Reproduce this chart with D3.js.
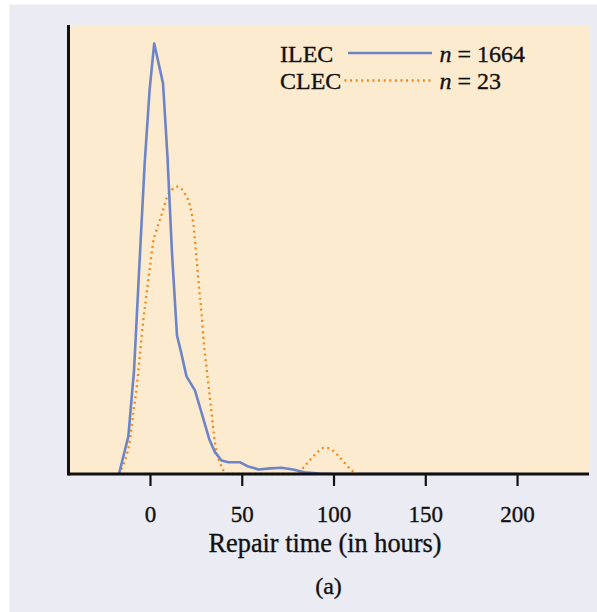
<!DOCTYPE html>
<html>
<head>
<meta charset="utf-8">
<script src="https://cdn.jsdelivr.net/npm/d3@7"></script>
<style>
  html, body { margin: 0; padding: 0; background: #ffffff; }
  svg { display: block; }
</style>
</head>
<body>
<svg id="chart" width="597" height="612"></svg>
<script>
// ---- data ----
const ilecX = [-16.9, -11.8, -8.7, -6.0, -2.9, -0.2, 2.3, 7.1, 9.5, 12.0, 14.7, 16.8, 19.9, 24.5, 28.2, 32.3, 35.4, 39.0, 42.7, 48.9, 53.1, 59.3, 65.5, 71.7, 77.9, 84.2, 92.4, 100.7, 200.2];
const ilecY = [0, 0.0067, 0.0184, 0.0358, 0.0553, 0.0685, 0.0767, 0.0696, 0.0567, 0.0393, 0.0247, 0.0219, 0.0174, 0.0149, 0.0108, 0.0062, 0.0039, 0.0024, 0.0021, 0.0021, 0.0014, 0.0008, 0.0010, 0.0011, 0.0008, 0.0003, 0.0001, 0, 0];

const clecX = [-17.3, -13.6, -10.9, -9.1, -7.2, -5.4, -3.6, -1.8, 0, 1.8, 3.6, 5.4, 7.2, 9.1, 11.8, 14.9, 19.1, 21.8, 23.6, 25.4, 26.8, 28.1, 29.4, 30.9, 32.3, 33.6, 34.8, 36.3, 38.1, 40.3, 42.6, 60, 79.9, 84.0, 88.0, 92.5, 94.9, 98.0, 102.5, 106.5, 110.7, 112];
const clecY = [0, 0.0025, 0.0061, 0.0109, 0.0155, 0.0216, 0.0275, 0.0323, 0.0369, 0.0414, 0.0435, 0.0453, 0.0471, 0.0492, 0.0506, 0.0512, 0.0499, 0.0478, 0.0446, 0.0383, 0.0330, 0.0285, 0.0232, 0.0187, 0.0146, 0.0107, 0.0071, 0.0039, 0.0020, 0.0005, 0, 0, 0, 0.0013, 0.0028, 0.0042, 0.0047, 0.0045, 0.0033, 0.0018, 0.0004, 0];

const tickValues = [0, 50, 100, 150, 200];
const seriesNames = ["ILEC", "CLEC"];
const seriesN = ["1664", "23"];
const xLabel = "Repair time (in hours)";
const caption = "(a)";

// ---- layout ----
const svg = d3.select("#chart");
const W = 597, H = 612;
const plot = { left: 68.5, right: 589, top: 25, bottom: 474 };
const serif = "'Liberation Serif', 'Times New Roman', serif";
const ink = "#111";

svg.append("rect").attr("x", 9.5).attr("y", 4.5).attr("width", W - 9.5).attr("height", H - 4.5).attr("fill", "#ebebf4");
svg.append("rect").attr("x", plot.left).attr("y", plot.top)
  .attr("width", plot.right - plot.left).attr("height", plot.bottom - plot.top).attr("fill", "#fcebcf");

const x = d3.scaleLinear().domain([-44.4, 239.2]).range([plot.left, plot.right]);
const y = d3.scaleLinear().domain([0, 0.08]).range([plot.bottom, plot.top]);

const ilec = ilecX.map((v, i) => [v, ilecY[i]]);
const clec = clecX.map((v, i) => [v, clecY[i]]);

// text helper: slight stroke to mimic the heavier print face
function styleText(sel, size) {
  return sel.attr("font-family", serif).attr("font-size", size).attr("fill", ink)
    .attr("stroke", ink).attr("stroke-width", 0.35);
}

// x axis
const xAxis = d3.axisBottom(x).tickValues(tickValues).tickSize(12).tickFormat(d3.format("d"));
const gx = svg.append("g").attr("transform", `translate(0,${plot.bottom})`).call(xAxis);
gx.select(".domain").remove();
gx.selectAll(".tick line").attr("stroke", ink).attr("stroke-width", 2.2);
styleText(gx.selectAll(".tick text"), 23).attr("dy", "1.45em");

// lines
const lineLinear = d3.line().x(d => x(d[0])).y(d => y(d[1]));
const lineSmooth = d3.line().x(d => x(d[0])).y(d => y(d[1])).curve(d3.curveMonotoneX);

svg.append("path").datum(clec).attr("d", lineSmooth).attr("fill", "none")
  .attr("stroke", "#f0891a").attr("stroke-width", 2.3).attr("stroke-dasharray", "2,3.6");
svg.append("path").datum(ilec).attr("d", lineLinear).attr("fill", "none")
  .attr("stroke", "#6d84c6").attr("stroke-width", 2.6).attr("stroke-linejoin", "round");

// axis lines
svg.append("line").attr("x1", plot.left).attr("x2", plot.right).attr("y1", plot.bottom).attr("y2", plot.bottom)
  .attr("stroke", ink).attr("stroke-width", 3);
svg.append("line").attr("x1", plot.left).attr("x2", plot.left).attr("y1", plot.top).attr("y2", plot.bottom + 1.5)
  .attr("stroke", ink).attr("stroke-width", 3);

// legend
const leg = svg.append("g");
const legRows = [
  { name: seriesNames[0], n: seriesN[0], y: 61.5, x1: 348, color: "#6d84c6", dash: null, w: 2.6 },
  { name: seriesNames[1], n: seriesN[1], y: 89, x1: 344.5, color: "#f0891a", dash: "2,3.6", w: 2.3 }
];
legRows.forEach(r => {
  styleText(leg.append("text").attr("x", 280).attr("y", r.y), 24).text(r.name);
  leg.append("line").attr("x1", r.x1).attr("x2", 432).attr("y1", r.y - 8.5).attr("y2", r.y - 8.5)
    .attr("stroke", r.color).attr("stroke-width", r.w).attr("stroke-dasharray", r.dash);
  const t = styleText(leg.append("text").attr("x", 439.5).attr("y", r.y), 24);
  t.append("tspan").attr("font-style", "italic").text("n");
  t.append("tspan").text(" = " + r.n);
});

// axis title and caption
styleText(svg.append("text").attr("x", 325).attr("y", 552).attr("text-anchor", "middle"), 26.3).text(xLabel);
styleText(svg.append("text").attr("x", 328.5).attr("y", 594).attr("text-anchor", "middle"), 24).text(caption);
</script>
</body>
</html>
